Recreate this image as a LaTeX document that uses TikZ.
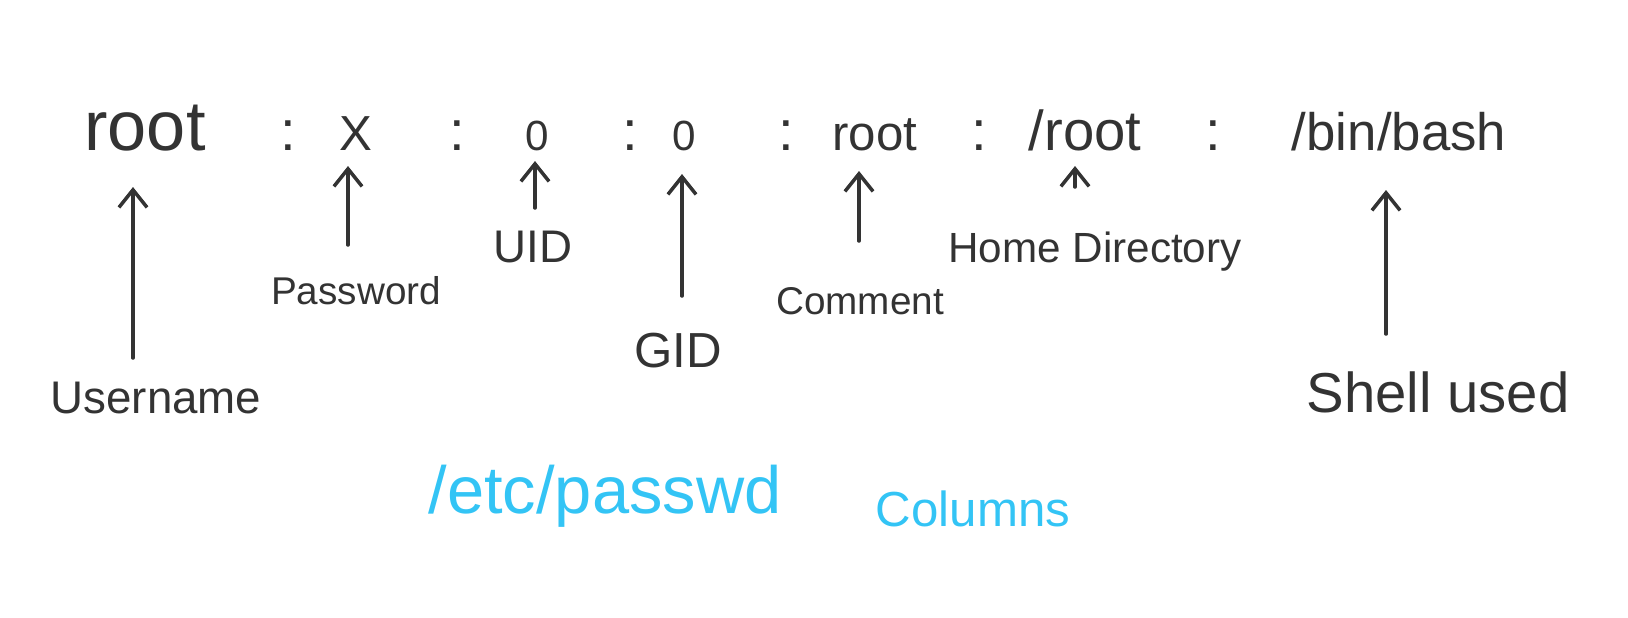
\documentclass[tikz,border=0pt]{standalone}
\usepackage{fontspec}
\setmainfont{Liberation Sans}
\usetikzlibrary{arrows.meta}
\definecolor{ink}{HTML}{333333}
\definecolor{sky}{HTML}{33C4F5}
\tikzset{
  field/.style={anchor=base, inner sep=0pt, text=ink},
  lbl/.style={inner sep=0pt, text=ink},
  note/.style={inner sep=0pt, text=sky},
  arr/.style={draw=ink, line width=1pt, line cap=round, -{Straight Barb[length=5pt,width=8pt]}}
}
\begin{document}
\begin{tikzpicture}[x=0.01cm,y=-0.01cm]
\useasboundingbox (0,0) rectangle (1628,617);
% top line
\node[field, font=\fontsize{20}{24}\selectfont] (f1) at (145,150) {root};
\node[field, font=\fontsize{16}{20}\selectfont] (c1) at (288,150) {:};
\node[field, font=\fontsize{14}{20}\selectfont] (f2) at (356,150) {X};
\node[field, font=\fontsize{16}{20}\selectfont] (c2) at (457,150) {:};
\node[field, font=\fontsize{12}{20}\selectfont] (f3) at (537,150) {0};
\node[field, font=\fontsize{16}{20}\selectfont] (c3) at (630,150) {:};
\node[field, font=\fontsize{12}{20}\selectfont] (f4) at (684,150) {0};
\node[field, font=\fontsize{16}{20}\selectfont] (c4) at (786,150) {:};
\node[field, font=\fontsize{14}{18}\selectfont] (f5) at (875,150) {root};
\node[field, font=\fontsize{16}{20}\selectfont] (c5) at (979,150) {:};
\node[field, font=\fontsize{16}{20}\selectfont] (f6) at (1085,150) {/root};
\node[field, font=\fontsize{16}{20}\selectfont] (c6) at (1213,150) {:};
\node[field, font=\fontsize{15}{20}\selectfont] (f7) at (1399,150) {/bin/bash};
% labels
\node[lbl, font=\fontsize{13}{16}\selectfont] (l1) at (156,398) {Username};
\node[lbl, font=\fontsize{11}{14}\selectfont] (l2) at (356,291) {Password};
\node[lbl, font=\fontsize{13}{16}\selectfont] (l3) at (533,247) {UID};
\node[lbl, font=\fontsize{14}{16}\selectfont] (l4) at (678,351) {GID};
\node[lbl, font=\fontsize{11}{14}\selectfont] (l5) at (860,301) {Comment};
\node[lbl, font=\fontsize{12}{14}\selectfont] (l6) at (1095,252) {Home Directory};
\node[lbl, font=\fontsize{16}{20}\selectfont] (l7) at (1438,392) {Shell used};
% arrow ends
\coordinate (t1) at (133,358); \coordinate (h1) at (133,187);
\coordinate (t2) at (348,245); \coordinate (h2) at (348,166);
\coordinate (t3) at (535,208); \coordinate (h3) at (535,161);
\coordinate (t4) at (682,296); \coordinate (h4) at (682,174);
\coordinate (t5) at (859,241); \coordinate (h5) at (859,171);
\coordinate (t6) at (1075,187); \coordinate (h6) at (1075,166);
\coordinate (t7) at (1386,334); \coordinate (h7) at (1386,190);
\foreach \i in {1,...,7}
  \path[arr] (t\i) -- (h\i);
% caption
\node[note, font=\fontsize{19}{22}\selectfont] (n1) at (605,496) {/etc/passwd};
\node[note, font=\fontsize{14}{18}\selectfont] (n2) at (973,509) {Columns};
\end{tikzpicture}
\end{document}
